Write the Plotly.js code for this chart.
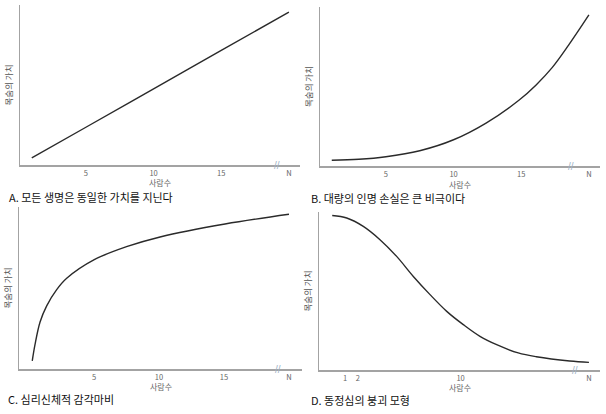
<!DOCTYPE html>
<html>
<head>
<meta charset="utf-8">
<script src="https://cdn.plot.ly/plotly-3.0.1.min.js"></script>
<style>html,body{margin:0;padding:0;background:#fff;}#chart{width:606px;height:414px;}</style>
</head>
<body>
<div id="chart"></div>
<script>
// Panel A: 모든 생명은 동일한 가치를 지닌다 (linear)
const xA = [1, 5, 10, 15, 20];
const yA = [4.4, 23.6, 47.6, 71.6, 95.6];
// Panel B: 대량의 인명 손실은 큰 비극이다 (convex)
const xB = [1, 3, 5, 7.5, 10, 12.4, 14.85, 16.1, 17.3, 18.5, 20];
const yB = [3.6, 4.2, 5.8, 9.6, 16.5, 27, 41.5, 51, 62, 76, 95];
// Panel C: 심리신체적 감각마비 (concave)
const xC = [0.25, 0.46, 0.85, 1.36, 2.13, 2.9, 5.02, 7.5, 10.08, 15.08, 20];
const yC = [5, 15, 29, 39, 49, 56, 67.5, 75.5, 81.5, 89.5, 95.5];
// Panel D: 동정심의 붕괴 모형 (decreasing sigmoid)
const xD = [0, 1.13, 2.42, 3.72, 5.02, 6.32, 7.62, 8.92, 10.21, 11.51, 12.81, 14.49, 15.9, 18.5, 20];
const yD = [97.8, 96.2, 90.9, 82.5, 71.9, 59.2, 47.7, 37.1, 28.7, 21.3, 16, 10.8, 8.4, 5.7, 4.8];

const tickValsABC = [5, 10, 15, 20];
const tickTextABC = ['5', '10', '15', 'N'];
const tickValsD = [1, 2, 10, 20];
const tickTextD = ['1', '2', '10', 'N'];

const xTitle = '사람수';
const yTitle = '목숨의 가치';
const captions = ['A. 모든 생명은 동일한 가치를 지닌다', 'B. 대량의 인명 손실은 큰 비극이다', 'C. 심리신체적 감각마비', 'D. 동정심의 붕괴 모형'];

const FONT = 'Noto Sans CJK KR, Liberation Sans, sans-serif';
const lineStyle = {color: '#2a2a2a', width: 1.4, shape: 'spline', smoothing: 1};

const traces = [
  {x: xA, y: yA, xaxis: 'x', yaxis: 'y', mode: 'lines', line: lineStyle, hoverinfo: 'skip'},
  {x: xB, y: yB, xaxis: 'x2', yaxis: 'y2', mode: 'lines', line: lineStyle, hoverinfo: 'skip'},
  {x: xC, y: yC, xaxis: 'x3', yaxis: 'y3', mode: 'lines', line: lineStyle, hoverinfo: 'skip'},
  {x: xD, y: yD, xaxis: 'x4', yaxis: 'y4', mode: 'lines', line: lineStyle, hoverinfo: 'skip'}
];

function xax(domain, range, tv, tt, anchor) {
  return {
    domain: domain, range: range, anchor: anchor,
    showline: true, linecolor: '#a3a3a3', linewidth: 1.5,
    showgrid: false, zeroline: false, ticks: '',
    tickvals: tv, ticktext: tt,
    tickfont: {family: FONT, size: 7.5, color: '#666'},
    fixedrange: true
  };
}
function yax(domain, anchor) {
  return {
    domain: domain, range: [0, 100], anchor: anchor,
    showline: true, linecolor: '#a3a3a3', linewidth: 1.5,
    showgrid: false, zeroline: false, ticks: '', showticklabels: false,
    title: {text: yTitle, font: {family: FONT, size: 8.5, color: '#555'}, standoff: 4},
    fixedrange: true
  };
}

const W = 606, H = 414;
const px = v => v / W;
const py = v => 1 - v / H;

const brk = {family: 'Liberation Sans', size: 10, color: '#9fb3c8'};
const cap = {family: FONT, size: 11, color: '#111'};
const xt = {family: FONT, size: 8, color: '#666'};

function xTitleAnn(axisRef, yPix) {
  return {text: xTitle, xref: axisRef + ' domain', yref: 'paper', x: 0.5, y: py(yPix), xanchor: 'center', yanchor: 'middle', showarrow: false, borderpad: 0, font: xt};
}
function capAnn(i, xPix, yPix) {
  return {text: captions[i], xref: 'paper', yref: 'paper', x: px(xPix), y: py(yPix), xanchor: 'left', yanchor: 'middle', showarrow: false, borderpad: 0, font: cap};
}

const layout = {
  width: W, height: H,
  margin: {l: 0, r: 0, t: 0, b: 0},
  paper_bgcolor: '#fff', plot_bgcolor: '#fff',
  showlegend: false,
  font: {family: FONT},
  xaxis: xax([px(20), px(300)], [0.13, 20.82], tickValsABC, tickTextABC, 'y'),
  yaxis: yax([py(165), py(5)], 'x'),
  xaxis2: xax([px(320), px(600)], [0.13, 20.82], tickValsABC, tickTextABC, 'y2'),
  yaxis2: yax([py(166), py(7)], 'x2'),
  xaxis3: xax([px(19), px(302)], [-0.77, 21], tickValsABC, tickTextABC, 'y3'),
  yaxis3: yax([py(369), py(207)], 'x3'),
  xaxis4: xax([px(319), px(600)], [-1.03, 20.86], tickValsD, tickTextD, 'y4'),
  yaxis4: yax([py(370), py(212)], 'x4'),
  annotations: [
    xTitleAnn('x', 183), xTitleAnn('x2', 184), xTitleAnn('x3', 386.5), xTitleAnn('x4', 387.5),
    capAnn(0, 8, 197), capAnn(1, 310, 197.5), capAnn(2, 7, 399), capAnn(3, 310, 400),
    {text: '//', xref: 'x', yref: 'y domain', x: 19.1, y: 0, xanchor: 'center', yanchor: 'middle', showarrow: false, font: brk},
    {text: '//', xref: 'x2', yref: 'y2 domain', x: 18.7, y: 0, xanchor: 'center', yanchor: 'middle', showarrow: false, font: brk},
    {text: '//', xref: 'x3', yref: 'y3 domain', x: 19.15, y: 0, xanchor: 'center', yanchor: 'middle', showarrow: false, font: brk},
    {text: '//', xref: 'x4', yref: 'y4 domain', x: 18.9, y: 0, xanchor: 'center', yanchor: 'middle', showarrow: false, font: brk}
  ]
};

Plotly.newPlot('chart', traces, layout, {staticPlot: true, displayModeBar: false});
</script>
</body>
</html>
